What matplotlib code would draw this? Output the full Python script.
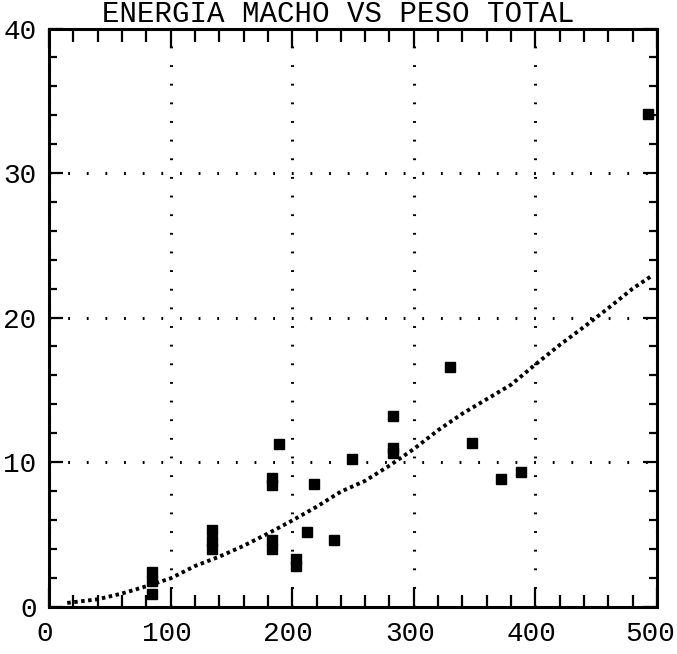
import matplotlib.pyplot as plt
from matplotlib.ticker import MultipleLocator
from matplotlib.transforms import offset_copy

# peso total vs energia, measured samples
pesoMuestra = [85, 85, 85, 134, 134, 134, 183, 183, 183, 183, 189, 203, 203,
               212, 218, 234, 249, 283, 283, 283, 330, 348, 372, 388, 493]
energiaMuestra = [2.4, 1.8, 0.9, 5.3, 4.5, 4.0, 8.9, 8.4, 4.6, 4.0, 11.25, 3.3, 2.8,
                  5.15, 8.5, 4.6, 10.2, 13.2, 11.0, 10.6, 16.6, 11.3, 8.8, 9.3, 34.1]

# fitted curve
pesoAjuste = [15, 40, 60, 80, 100, 120, 140, 160, 180, 200, 220, 240, 260,
              280, 300, 320, 340, 360, 380, 400, 420, 440, 460, 480, 496]
energiaAjuste = [0.25, 0.5, 0.9, 1.4, 1.95, 2.8, 3.45, 4.2, 5.05, 5.95, 6.9, 7.95, 8.7,
                 9.75, 10.9, 12.2, 13.35, 14.35, 15.35, 16.75, 18.1, 19.35, 20.65, 22.0, 22.9]

etiquetasX = [0, 100, 200, 300, 400, 500]

fuente = 'Liberation Mono'

fig = plt.figure(figsize=(6.77, 6.54), dpi=100)
ax = fig.add_axes([0.0724, 0.0726, 0.898, 0.8838])

ax.plot(pesoAjuste, energiaAjuste, color='black', lw=2.8,
        linestyle=(0, (0.9, 0.9)), dash_capstyle='butt')
ax.plot(pesoMuestra, energiaMuestra, 's', color='black', markersize=6.5)

ax.set_xlim(0, 500)
ax.set_ylim(0, 40)
ax.xaxis.set_major_locator(MultipleLocator(100))
ax.xaxis.set_minor_locator(MultipleLocator(20))
ax.yaxis.set_major_locator(MultipleLocator(10))
ax.yaxis.set_minor_locator(MultipleLocator(2))

ax.grid(True, which='major', color='black', lw=2.2, linestyle=(0, (0.6, 5.5)))
ax.tick_params(which='both', direction='in', top=True, right=True, color='black',
               width=1.6, labelsize=20)
ax.tick_params(axis='x', which='major', length=14, labelbottom=False)
ax.tick_params(axis='x', which='minor', length=9)
ax.tick_params(axis='y', which='major', length=10, pad=9)
ax.tick_params(axis='y', which='minor', length=6)
for lab in ax.get_yticklabels():
    lab.set_fontfamily(fuente)

# x labels drawn by hand so the last one stays on the page
trans = offset_copy(ax.get_xaxis_transform(), fig=fig, x=-4, y=-14, units='dots')
for v in etiquetasX:
    if v == etiquetasX[-1]:
        ax.text(v, 0, str(v), transform=offset_copy(trans, fig=fig, x=22, units='dots'),
                ha='right', va='top', fontsize=20, family=fuente)
    else:
        ax.text(v, 0, str(v), transform=trans, ha='center', va='top',
                fontsize=20, family=fuente)

for s in ax.spines.values():
    s.set_linewidth(2.2)

fig.text(0.5, 0.978, 'ENERGIA MACHO VS PESO TOTAL', ha='center', va='center',
         fontsize=21, family=fuente)

plt.savefig('out.png')
